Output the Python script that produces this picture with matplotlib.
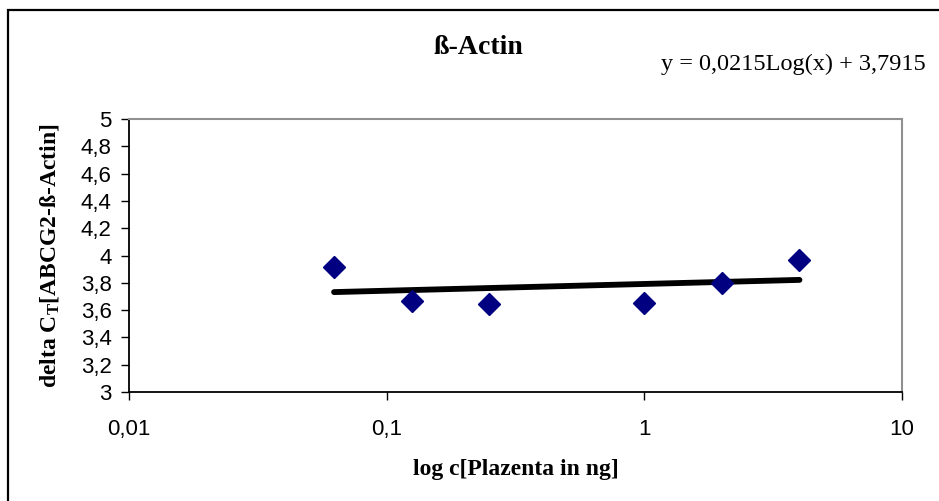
import numpy as np
import matplotlib
matplotlib.use('Agg')
import matplotlib.pyplot as plt
from matplotlib.ticker import FixedLocator, FuncFormatter, NullLocator

plt.rcParams['mathtext.fontset'] = 'custom'
plt.rcParams['mathtext.rm'] = 'Liberation Serif:bold'
plt.rcParams['mathtext.it'] = 'Liberation Serif:bold'
plt.rcParams['mathtext.bf'] = 'Liberation Serif:bold'

# plasma amount in ng and measured delta CT
conc = [0.0625, 0.125, 0.25, 1, 2, 4]
delta_ct = [3.916, 3.667, 3.648, 3.652, 3.80, 3.967]

# logarithmic trend line y = a*ln(x) + b
slope = 0.0215
intercept = 3.7915

xticks = [0.01, 0.1, 1, 10]
yticks = [3, 3.2, 3.4, 3.6, 3.8, 4, 4.2, 4.4, 4.6, 4.8, 5]

fig = plt.figure(figsize=(9.39, 5.01), dpi=100)
ax = fig.add_axes([129 / 939, 1 - 392 / 501, 773 / 939, 273 / 501])

xs = np.geomspace(min(conc), max(conc), 200)
ax.plot(xs, slope * np.log(xs) + intercept, color='black', lw=4.2,
        solid_capstyle='round', zorder=2)
ax.plot(conc, delta_ct, 'D', color='#000080', ms=11, mec='#000080', zorder=3)

ax.set_xscale('log')
ax.set_xlim(0.01, 10)
ax.set_ylim(3, 5)
ax.xaxis.set_major_locator(FixedLocator(xticks))
ax.xaxis.set_minor_locator(NullLocator())
ax.yaxis.set_major_locator(FixedLocator(yticks))

def comma(v, pos):
    return ('%g' % v).replace('.', ',')

ax.xaxis.set_major_formatter(FuncFormatter(comma))
ax.yaxis.set_major_formatter(FuncFormatter(comma))

for lab in ax.get_xticklabels() + ax.get_yticklabels():
    lab.set_fontfamily('Liberation Sans')
    lab.set_fontsize(16)

ax.tick_params(axis='both', direction='out', length=5.5, width=1, color='black')
ax.tick_params(axis='x', pad=14)
ax.tick_params(axis='y', pad=7)

for side in ('left', 'bottom'):
    ax.spines[side].set_color('black')
    ax.spines[side].set_linewidth(1.3)
for side in ('top', 'right'):
    ax.spines[side].set_color('#909090')
    ax.spines[side].set_linewidth(1.5)

ax.set_xlabel('log c[Plazenta in ng]', fontfamily='Liberation Serif',
              fontweight='bold', fontsize=17)
ax.xaxis.set_label_coords(0.5, -(470 - 392) / 273)
ax.xaxis.label.set_va('center')
ax.set_ylabel('delta C$_\\mathrm{T}$[ABCG2-ß-Actin]', fontfamily='Liberation Serif',
              fontweight='bold', fontsize=17)
ax.yaxis.set_label_coords(-(129 - 50) / 773, 0.5)
ax.yaxis.label.set_va('center')

fig.text(478 / 939, 1 - 47 / 501, 'ß-Actin', fontfamily='Liberation Serif',
         fontweight='bold', fontsize=20, ha='center', va='center')
fig.text(793 / 939, 1 - 64 / 501, 'y = 0,0215Log(x) + 3,7915',
         fontfamily='Liberation Serif', fontsize=17.5, ha='center', va='center')

# outer chart frame, right and bottom edges run off the canvas
frame = plt.Rectangle((8 / 939, -0.05), 1.2, 1 - 10 / 501 + 0.05,
                      transform=fig.transFigure, fill=False,
                      edgecolor='black', lw=1.6)
fig.patches.append(frame)

fig.savefig('out.png', dpi=100)
